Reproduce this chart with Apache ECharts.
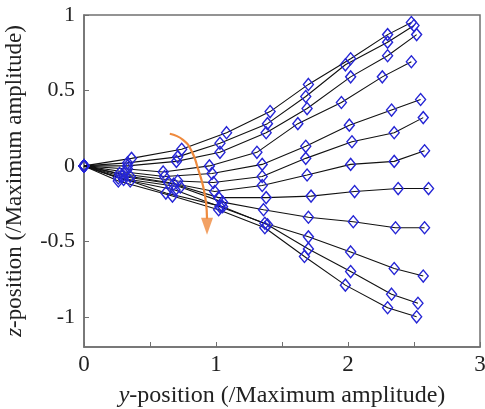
<!DOCTYPE html>
<html>
<head>
<meta charset="utf-8">
<script src="https://cdn.jsdelivr.net/npm/echarts@6/dist/echarts.min.js"></script>
<style>html,body{margin:0;padding:0;background:#fff}#c{width:485px;height:409px}</style>
</head>
<body>
<div id="c"></div>
<script>
// Trajectories: [y-position, z-position] pairs (normalised by maximum amplitude)
var curve1  = [[0,0],[0.36,0.05],[0.74,0.11],[1.08,0.22],[1.41,0.36],[1.70,0.54],[2.02,0.71],[2.30,0.87],[2.48,0.95]];
var curve2  = [[0,0],[0.33,0.02],[0.71,0.06],[1.03,0.15],[1.39,0.28],[1.68,0.46],[1.98,0.67],[2.30,0.82],[2.50,0.93]];
var curve3  = [[0,0],[0.33,0.00],[0.70,0.03],[1.03,0.09],[1.38,0.22],[1.69,0.38],[2.02,0.59],[2.30,0.73],[2.52,0.87]];
var curve4  = [[0,0],[0.33,-0.02],[0.60,-0.04],[0.95,0.00],[1.31,0.09],[1.62,0.28],[1.95,0.42],[2.26,0.59],[2.48,0.69]];
var curve5  = [[0,0],[0.31,-0.04],[0.61,-0.07],[0.97,-0.05],[1.35,0.01],[1.68,0.13],[2.01,0.27],[2.33,0.37],[2.55,0.44]];
var curve6  = [[0,0],[0.27,-0.05],[0.71,-0.10],[0.98,-0.11],[1.35,-0.07],[1.68,0.05],[2.03,0.16],[2.35,0.22],[2.57,0.32]];
var curve7  = [[0,0],[0.35,-0.07],[0.64,-0.11],[0.99,-0.17],[1.35,-0.13],[1.69,-0.06],[2.02,0.01],[2.35,0.03],[2.58,0.10]];
var curve8  = [[0,0],[0.29,-0.07],[0.68,-0.12],[1.02,-0.21],[1.38,-0.21],[1.72,-0.20],[2.05,-0.17],[2.38,-0.15],[2.61,-0.15]];
var curve9  = [[0,0],[0.26,-0.08],[0.73,-0.14],[1.05,-0.24],[1.36,-0.29],[1.70,-0.34],[2.04,-0.37],[2.36,-0.41],[2.58,-0.41]];
var curve10 = [[0,0],[0.30,-0.09],[0.69,-0.16],[1.03,-0.27],[1.37,-0.38],[1.70,-0.47],[2.02,-0.57],[2.35,-0.68],[2.57,-0.73]];
var curve11 = [[0,0],[0.35,-0.10],[0.62,-0.18],[1.05,-0.27],[1.39,-0.39],[1.70,-0.55],[2.02,-0.70],[2.33,-0.85],[2.53,-0.91]];
var curve12 = [[0,0],[0.26,-0.10],[0.67,-0.20],[1.02,-0.29],[1.37,-0.41],[1.67,-0.60],[1.98,-0.79],[2.30,-0.94],[2.52,-1.00]];
var curves = [curve1,curve2,curve3,curve4,curve5,curve6,curve7,curve8,curve9,curve10,curve11,curve12];

// Orange arrow annotation (data coordinates)
var arrowPath = [[0.65,0.213],[0.75,0.173],[0.818,0.093],[0.864,-0.02],[0.902,-0.133],[0.924,-0.24],[0.932,-0.35]];
var arrowHead = [[0.932,-0.40]];

var xTicks = [0,0.5,1,1.5,2,2.5,3];
var yTicks = [-1,-0.5,0,0.5,1];

var FONT = 'Liberation Serif';
var series = curves.map(function(c){
  return {
    type:'line', data:c, smooth:false,
    symbol:'diamond', symbolSize:[10,12],
    lineStyle:{color:'#111', width:1.1},
    itemStyle:{color:'rgba(0,0,0,0)', borderColor:'#2525d5', borderWidth:1.4},
    emphasis:{disabled:true}, z:2
  };
});
series.push({
  type:'line', data:arrowPath, smooth:true, symbol:'none',
  lineStyle:{color:'#ef8a3d', width:2.2}, z:5, emphasis:{disabled:true}
});
series.push({
  type:'scatter', data:arrowHead, symbol:'triangle', symbolRotate:180,
  symbolSize:[12,17], itemStyle:{color:'#ef8a3d'}, z:6, emphasis:{disabled:true}
});

var chart = echarts.init(document.getElementById('c'), null, {renderer:'canvas'});
chart.setOption({
  animation:false,
  backgroundColor:'#fff',
  grid:{left:84, right:5, top:15, bottom:62, containLabel:false, outerBoundsMode:'none',
    show:true, borderColor:'#707070', borderWidth:1.5, backgroundColor:'transparent'},
  xAxis:{
    type:'value', min:0, max:3, interval:0.5,
    axisLine:{onZero:false, lineStyle:{color:'#707070', width:1.5}},
    axisTick:{inside:true, length:5, lineStyle:{color:'#707070'}},
    splitLine:{show:false},
    axisLabel:{fontFamily:FONT, fontSize:23, color:'#222', margin:6,
      formatter:function(v){ return (v%1===0)? String(v) : ''; }},
    name:'{i|y}-position (/Maximum amplitude)',
    nameLocation:'middle', nameGap:37,
    nameTextStyle:{fontFamily:FONT, fontSize:24, color:'#222',
      rich:{i:{fontStyle:'italic', fontFamily:FONT, fontSize:24, color:'#222'}}}
  },
  yAxis:{
    type:'value', min:-1.2, max:1.0,
    axisLine:{show:true, onZero:false, lineStyle:{color:'#707070', width:1.5}},
    axisTick:{show:true, inside:true, length:5, customValues:yTicks, lineStyle:{color:'#707070'}},
    splitLine:{show:false},
    axisLabel:{fontFamily:FONT, fontSize:22, color:'#222', margin:9, customValues:yTicks,
      formatter:function(v){ return String(v); }},
    name:'{i|z}-position (/Maximum amplitude)',
    nameLocation:'middle', nameGap:58, nameRotate:90,
    nameTextStyle:{fontFamily:FONT, fontSize:23, color:'#222',
      rich:{i:{fontStyle:'italic', fontFamily:FONT, fontSize:23, color:'#222'}}}
  },
  series:series
});
</script>
</body>
</html>
